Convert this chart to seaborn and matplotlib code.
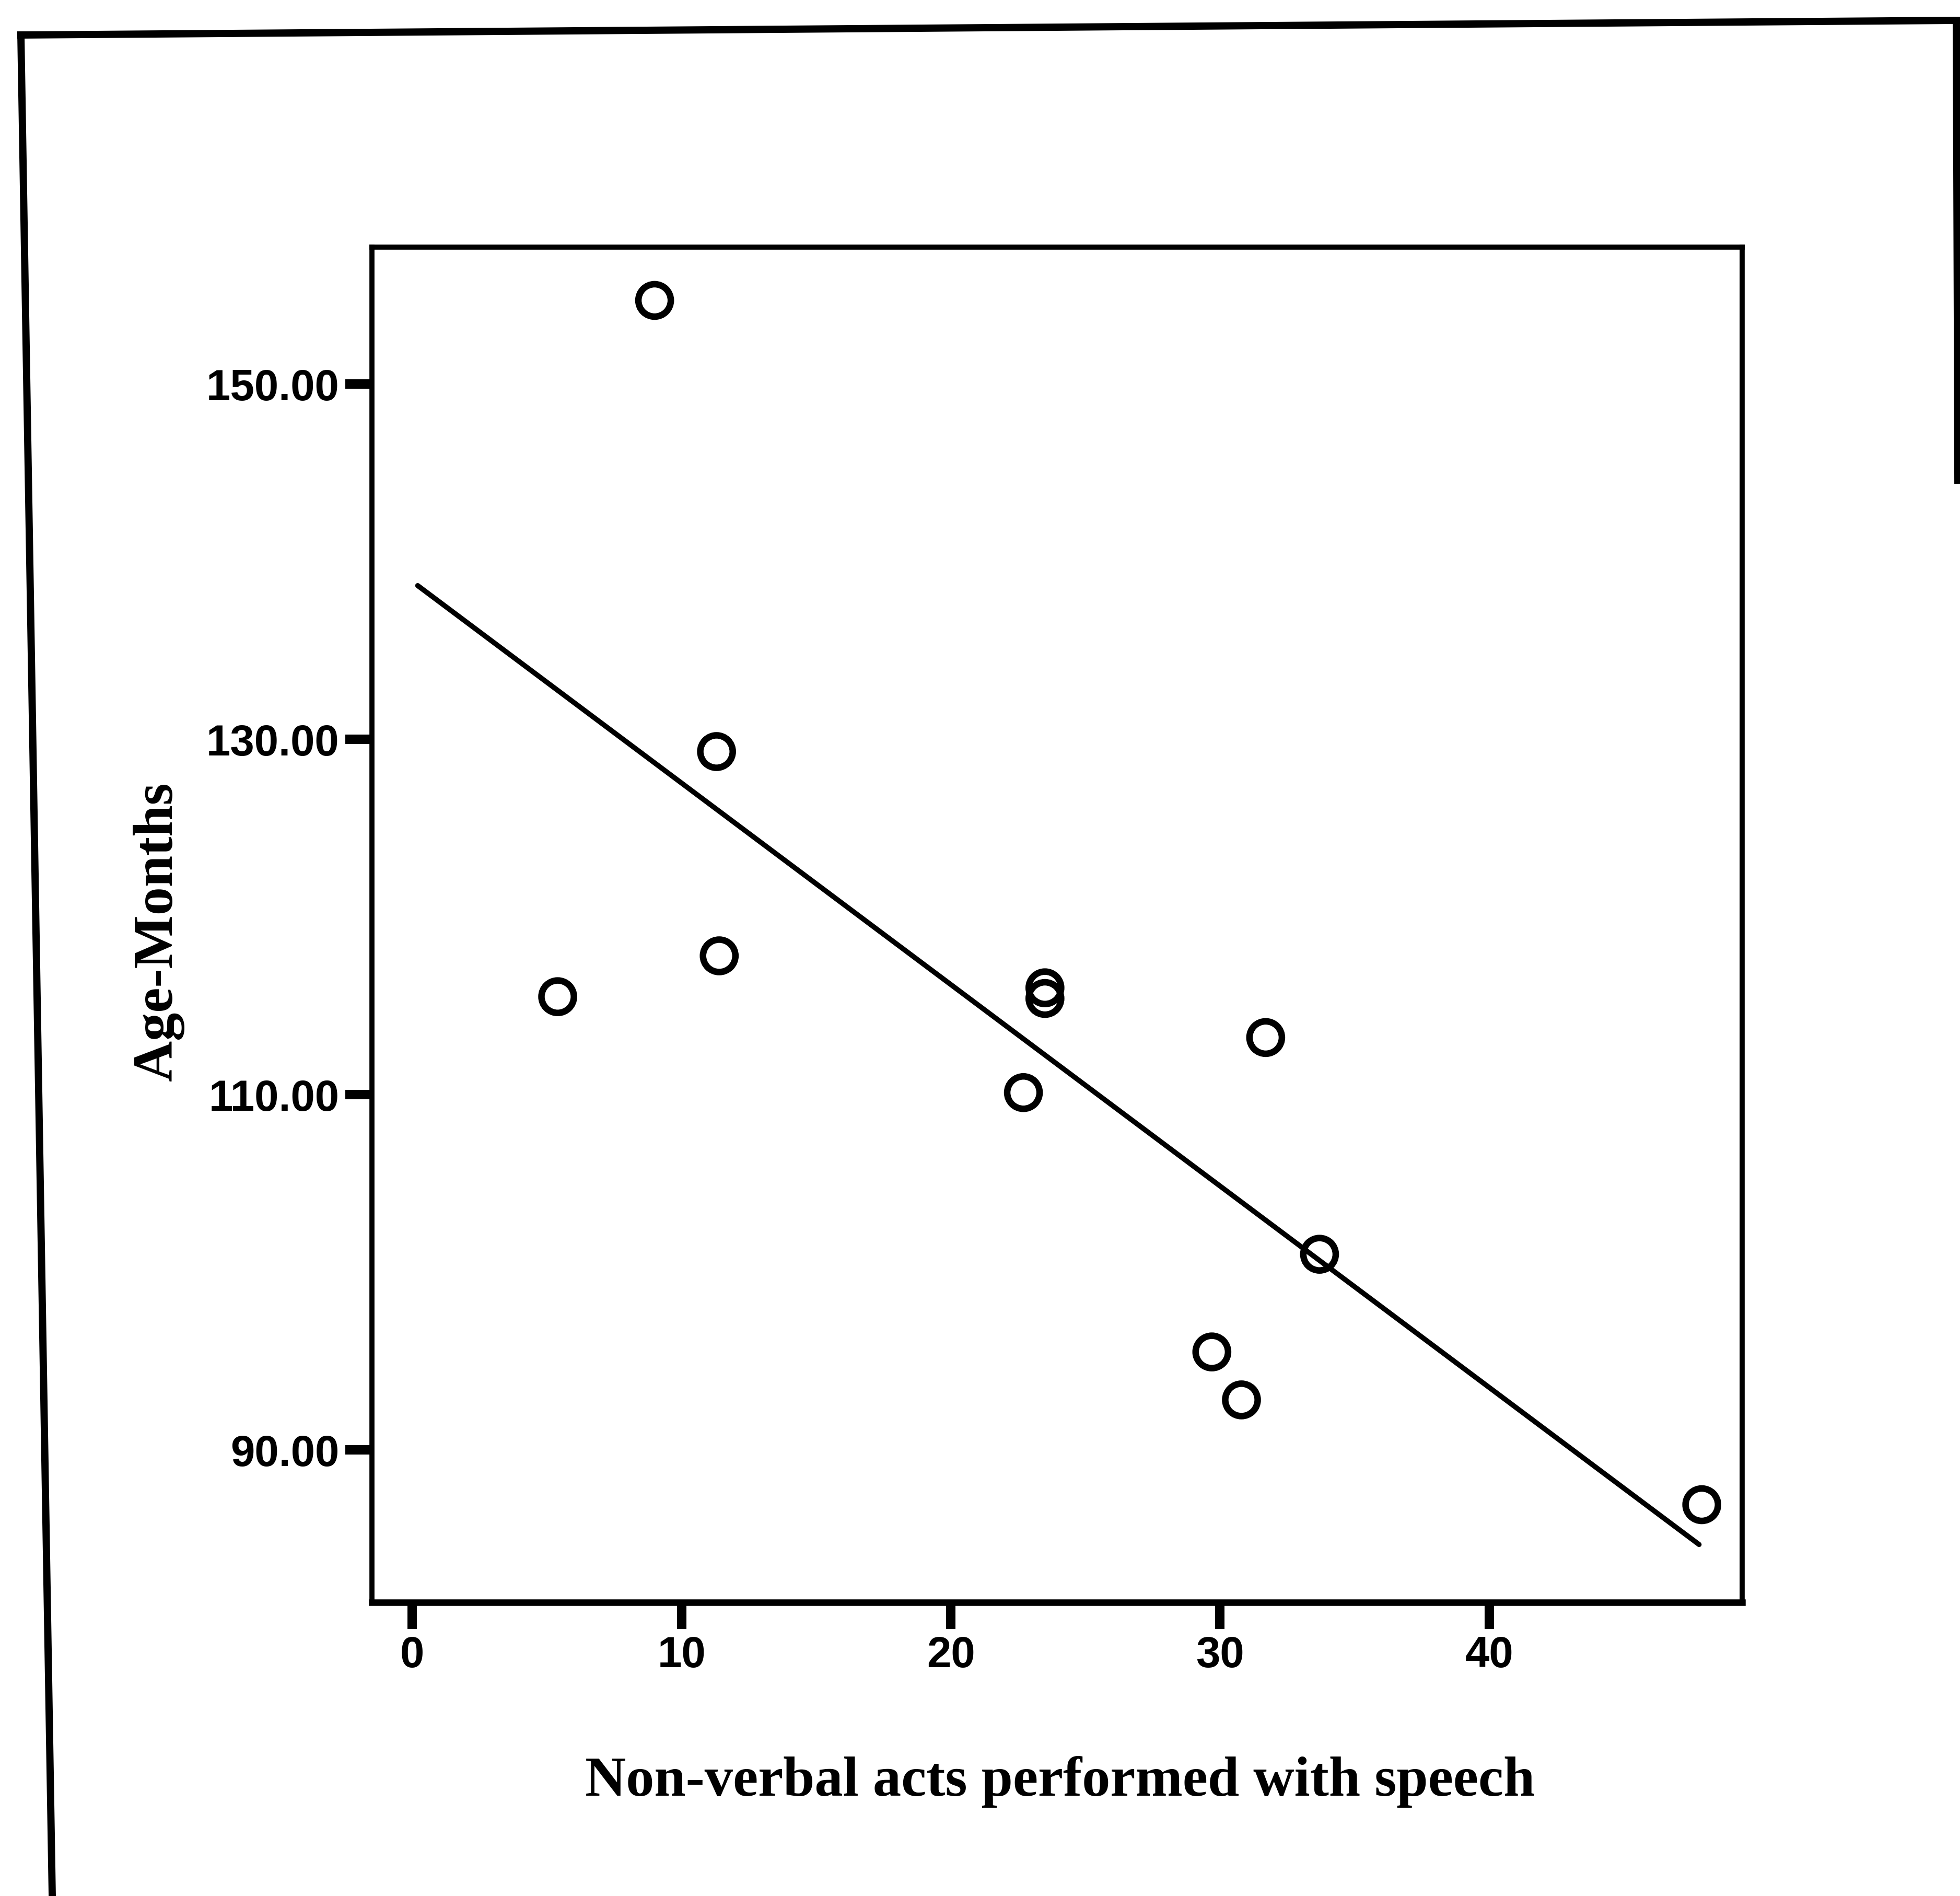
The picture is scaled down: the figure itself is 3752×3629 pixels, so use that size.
import numpy as np
import pandas as pd
import seaborn as sns
import matplotlib
matplotlib.use("Agg")
import matplotlib.pyplot as plt
from matplotlib.lines import Line2D

# ---- data ----
nonverbal_acts = [5.4, 9.0, 11.3, 11.4, 22.7, 23.5, 23.5, 29.7, 30.8, 31.7, 33.7, 47.9]
age_months = [115.5, 154.7, 129.3, 117.8, 110.1, 116.0, 115.4, 95.5, 92.8, 113.2, 101.0, 86.9]
fit_range = [0.2, 47.8]
x_ticks = [0, 10, 20, 30, 40]
x_tick_labels = ["0", "10", "20", "30", "40"]
y_ticks = [90, 110, 130, 150]
y_tick_labels = ["90.00", "110.00", "130.00", "150.00"]
x_label = "Non-verbal acts performed with speech"
y_label = "Age-Months"

df = pd.DataFrame({"acts": nonverbal_acts, "age": age_months})

sns.set_style("white")
plt.rcParams["font.family"] = ["Liberation Sans", "DejaVu Sans"]

W, H = 3752, 3630
fig = plt.figure(figsize=(W / 100, H / 100), dpi=100)
fig.patch.set_facecolor("white")


def fx(px):
    return px / W


def fy(py):
    return 1 - py / H


left, right, top, bottom = 712, 3335, 474, 3068
ax = fig.add_axes([fx(left), fy(bottom), (right - left) / W, (bottom - top) / H])

sns.scatterplot(data=df, x="acts", y="age", ax=ax, marker="o", s=2000,
                facecolor="none", edgecolor="black", linewidth=9, zorder=3)
for coll in ax.collections:
    coll.set_facecolor("none")
    coll.set_edgecolor("black")

coef = np.polyfit(df["acts"], df["age"], 1)
line_x = np.linspace(fit_range[0], fit_range[1], 2)
sns.lineplot(x=line_x, y=np.polyval(coef, line_x), ax=ax, color="black", linewidth=7)

ax.set_xlim(-1.5, 49.4)
ax.set_ylim(81.4, 157.7)
ax.set_xticks(x_ticks)
ax.set_xticklabels(x_tick_labels)
ax.set_yticks(y_ticks)
ax.set_yticklabels(y_tick_labels)
ax.tick_params(axis="both", which="major", bottom=True, left=True, direction="out",
               length=37, width=13, color="black", labelsize=60, pad=8)
for lab in ax.get_xticklabels() + ax.get_yticklabels():
    lab.set_fontweight("bold")
    lab.set_color("black")

for side, sp in ax.spines.items():
    sp.set_visible(True)
    sp.set_color("black")
    sp.set_linewidth(7)
ax.spines["bottom"].set_linewidth(9)

ax.set_xlabel(x_label, fontfamily="Liberation Serif", fontweight="bold", fontsize=78, color="black")
ax.set_ylabel(y_label, fontfamily="Liberation Serif", fontweight="bold", fontsize=78, color="black")
ax.xaxis.set_label_coords(fx(2029), fy(3410), transform=fig.transFigure)
ax.yaxis.set_label_coords(fx(303), fy(1783), transform=fig.transFigure)
ax.xaxis.label.set_va("center")
ax.yaxis.label.set_va("center")

# outer scanned frame
frame_kw = dict(transform=fig.transFigure, color="black", linewidth=10, solid_capstyle="projecting")
fig.add_artist(Line2D([fx(40), fx(3745)], [fy(68), fy(40)], **frame_kw))
fig.add_artist(Line2D([fx(40), fx(100)], [fy(68), fy(3630)], **frame_kw))
fig.add_artist(Line2D([fx(3745), fx(3748)], [fy(40), fy(920)], **frame_kw))

fig.savefig("out.png", dpi=100, facecolor="white")
